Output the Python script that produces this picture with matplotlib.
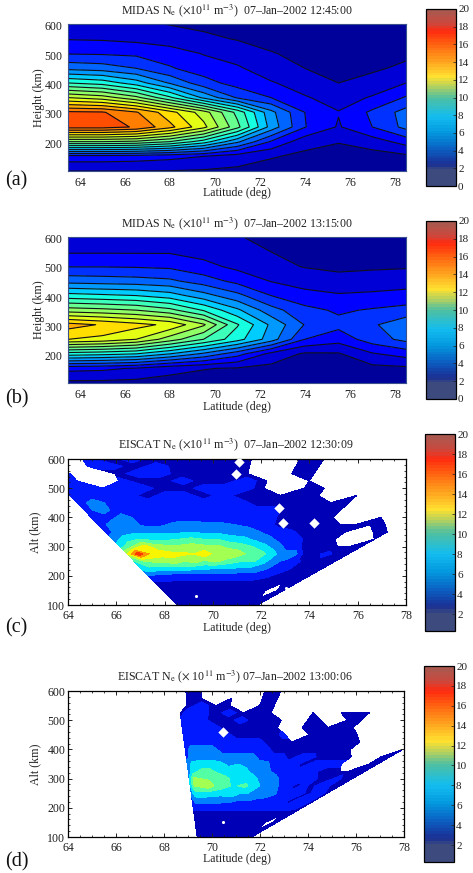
import matplotlib
matplotlib.use('Agg')
import matplotlib.pyplot as plt
import numpy as np
from matplotlib.cm import ScalarMappable
from matplotlib.colors import LinearSegmentedColormap, Normalize
from matplotlib.ticker import MultipleLocator

plt.rcParams['font.family'] = ['Liberation Serif', 'DejaVu Serif']
plt.rcParams['mathtext.fontset'] = 'stix'
plt.rcParams['text.color'] = '#222222'
plt.rcParams['axes.labelcolor'] = '#222222'
plt.rcParams['xtick.color'] = '#222222'
plt.rcParams['ytick.color'] = '#222222'

n = np.nan

# Model grid (MIDAS), density in 1e11 m^-3
midas_lat = [63.5, 65, 66.5, 68, 69.5, 71, 72.5, 74, 75.5, 77, 78.5]
midas_height = [605, 555, 505, 455, 405, 355, 305, 255, 205, 155, 105]

midas_a = [
    [1.3, 1.25, 1.15, 0.97, 0.8, 0.7, 0.6, 0.5, 0.4, 0.35, 0.35],
    [1.95, 1.9, 1.75, 1.5, 1.2, 0.95, 0.75, 0.6, 0.5, 0.5, 0.55],
    [2.95, 2.9, 2.8, 2.5, 1.95, 1.5, 1.05, 0.8, 0.6, 0.65, 0.8],
    [4.7, 4.5, 4.0, 3.1, 2.5, 2.15, 1.4, 1.0, 0.8, 0.85, 1.2],
    [8.0, 7.6, 6.5, 4.9, 3.4, 2.6, 2.1, 1.5, 1.0, 1.35, 2.0],
    [12.0, 11.5, 10.3, 8.2, 5.8, 3.9, 3.0, 2.1, 1.55, 2.1, 3.1],
    [16.2, 16.1, 15.1, 13.4, 11.5, 8.7, 5.3, 3.0, 2.05, 3.2, 4.4],
    [16.4, 16.4, 15.9, 14.3, 12.3, 9.3, 5.6, 3.05, 1.9, 3.0, 4.3],
    [10.0, 10.0, 9.8, 9.0, 7.5, 5.2, 2.9, 1.4, 1.05, 1.5, 2.4],
    [2.6, 2.6, 2.5, 2.3, 2.0, 1.5, 1.1, 0.75, 0.6, 0.6, 0.8],
    [1.0, 1.0, 1.0, 0.97, 0.9, 0.8, 0.5, 0.4, 0.3, 0.3, 0.3],
]

midas_b = [
    [1.25, 1.25, 1.25, 1.2, 1.15, 1.05, 0.8, 0.5, 0.4, 0.45, 0.5],
    [1.9, 1.9, 1.9, 1.9, 1.65, 1.25, 1.0, 0.65, 0.5, 0.6, 0.7],
    [2.95, 2.95, 2.9, 2.8, 2.3, 1.75, 1.3, 0.95, 0.75, 0.85, 0.9],
    [4.6, 4.5, 4.4, 4.2, 3.5, 2.7, 1.95, 1.55, 1.4, 1.45, 1.55],
    [7.4, 7.2, 7.0, 6.5, 5.4, 4.3, 3.0, 2.35, 2.1, 2.2, 2.35],
    [10.5, 10.3, 10.0, 9.3, 7.9, 6.2, 4.4, 3.3, 2.85, 3.1, 3.35],
    [14.4, 13.9, 13.35, 12.75, 11.15, 8.1, 5.8, 3.95, 3.3, 3.85, 4.7],
    [13.0, 12.7, 12.0, 10.5, 9.0, 7.4, 5.5, 3.0, 2.4, 3.5, 4.3],
    [7.5, 7.3, 7.0, 6.0, 4.8, 3.4, 1.7, 0.85, 0.9, 1.9, 2.4],
    [2.3, 2.2, 1.9, 1.3, 1.05, 0.9, 0.7, 0.5, 0.45, 0.7, 0.8],
    [0.75, 0.75, 0.7, 0.65, 0.55, 0.5, 0.4, 0.3, 0.3, 0.35, 0.4],
]

# Radar gates (EISCAT): rows are altitudes, columns are beams,
# beams named by the latitude they reach at 300 km
gate_alt = [600, 575, 550, 525, 500, 475, 450, 425, 400, 375, 350,
            325, 300, 275, 250, 225, 200, 175, 150, 125, 100]

beam_lat_c = [66.15, 66.65, 67.15, 67.65, 68.15, 68.65, 69.15, 69.65, 70.15, 70.65, 71.15,
              71.65, 72.15, 72.65, 73.15, 73.65, 74.15, 74.65, 75.15, 75.65, 76.15]
site_lat_c = 69.7

eiscat_c = [
    [n, n, 3, 1, 3, 1, 1, 1, 1, 1, n, 1, 1, n, n, n, n, n, n, n, n],
    [n, n, 3, 3, 1, 3, 1, 1, 1, 1, n, 1, 1, n, n, n, n, n, n, n, n],
    [3, 3, n, 1, 3, 3, 1, 1, 1, 1, n, 1, 1, n, n, n, n, n, n, n, n],
    [3, 3, n, 3, 1, 1, 3, 1, 1, 3, 1, n, 1, n, n, n, n, n, n, n, n],
    [3, 3, 3, 3, 3, 1, 1, 3, 3, 3, 1, n, 1, 1, n, n, n, n, n, n, n],
    [3, 3, 3, 3, 1, 3, 3, 1, 3, 1, 1, 1, 1, 1, n, 1, n, n, n, n, n],
    [3, 5, 3, 3, 3, 3, 3, 3, 3, 3, 1, 1, 1, 1, 1, 1, n, n, n, n, n],
    [3, 5, 3, 3, 3, 3, 3, 3, 3, 3, 3, 3, 1, 1, 1, 1, n, n, n, n, n],
    [3, 3, 5, 3, 3, 3, 3, 3, 3, 3, 3, 3, 1, 1, 1, 1, n, n, 1, n, n],
    [3, 5, 5, 3.5, 3.5, 4.5, 5, 4.5, 4.5, 4, 3.5, 3, 1.5, 1, 1, 1, 1, 1, 1, 1, n],
    [3, 5, 5.5, 5.5, 5.5, 5.5, 6, 5.5, 5.5, 5, 5, 4, 3, 2.5, 1.5, 1, 1, 1, n, 1, 1],
    [5, 7, 8, 7.5, 7.5, 8, 8.5, 8, 8, 7, 6.5, 5.5, 4.5, 3, 2.5, 1.5, 1, 1, n, n, 1],
    [7, 10, 13, 11, 10.5, 10.5, 11, 10.5, 10.5, 9.5, 9, 8, 6.5, 5, 3, 2, 1, 1.5, 1, 1, 1],
    [12, 17.5, 14, 13, 12.5, 12.5, 12, 13.5, 11, 11.5, 11, 9.5, 9, 7, 5, 5.5, 1.5, 1.5, 2.5, 1.5, 1],
    [8, 10, 10.5, 10.5, 11.5, 10, 11, 9.5, 10.5, 9.5, 8.5, 8, 8, 6.5, 4.5, 3.5, 2.5, 1.5, 1.5, 1.5, 1],
    [7, 7.5, 7, 7, 7, 7, 6.5, 6.5, 6, 6, 6, 5.5, 5.5, 5, 4, 3, 2.5, 1.5, 1, 1, 1],
    [4, 3.5, 3.5, 3, 3, 3, 3, 3, 3, 3, 3, 3, 3, 3, 2.5, 2.2, 1.5, 1, 1, 1, 1],
    [1.5, 1.5, 1.5, 1.5, 1.5, 1.5, 1.5, 1.5, 1.5, 1.5, 1.5, 1.5, 1.5, 1.5, 1.5, 1.2, 1.2, 1, 1, 1, 1],
    [1.2, 1.2, 1.2, 1.2, 1.2, 1.2, 1.2, 1.2, 1.2, 1.2, 1.2, 1.2, 1.2, 1.2, 1.2, 1.2, 1.2, 1, n, 1, 1],
    [1, 1, 1, 1, 1, 1, 1, 1, 1, 1, 1, 1, 1, 1, 1, 1, 1, 1, 1, 1, 1],
    [1, 1, 1, 1, 1, 1, 1, 1, 1, 1, 1, 1, 1, 1, 1, 1, 1, 1, 1, 1, 1],
]

# gates with no usable data, smaller than the beam spacing
gap_lat_c = [70.95, 71.08, 72.75, 72.92, 74.2]
gap_alt_c = [548, 590, 432, 382, 380]
spot_lat_c = [69.3, 73.05]
spot_alt_c = [130, 158]

beam_lat_d = [69.05, 69.23, 69.55, 69.88, 70.21, 70.55, 70.88, 71.21, 71.55, 71.88, 72.21,
              72.55, 72.88, 73.21, 73.55, 73.88, 74.21, 74.55, 74.88, 75.21, 75.55, 75.85]
site_lat_d = 69.55

eiscat_d = [
    [n, 1, 1, n, 1, n, 1, 1, n, n, n, n, n, n, n, n, n, n, n, n, n, n],
    [n, 1, 1, n, 1, n, 1, 1, n, n, n, n, n, n, n, n, n, n, n, n, n, n],
    [n, 1, 3, 1, 1, n, 1, 1, n, n, n, n, n, n, n, n, n, n, n, n, n, n],
    [1, 3, 3, 1, 3, 1, 1, 1, n, n, 1, n, 1, 1, 1, n, n, n, n, n, n, n],
    [3, 3, 3, 1, 1, 3, 1, 1, 1, n, 1, 1, n, 1, 1, n, n, n, n, n, n, n],
    [3, 3, 3, 3, 1, 1, 1, 1, 1, n, 1, 1, 1, 1, 1, n, n, n, n, n, n, n],
    [3, 3, 3, 3, 3, 1, 1, 1, 1, 3, n, 1, 1, 1, 1, 1, n, n, n, n, n, n],
    [3, 3, 3, 3, 3, 3, 3, 3, 1, 1, 1, 1, 1, 1, 1, 1, 1, n, n, n, n, n],
    [3, 5, 5, 5, 3, 3, 3, 3, 3, 1, 1, 1, 1, 1, 1, 1, 1, n, n, n, n, 1],
    [3, 5, 5, 5, 5, 5, 5, 5, 3, 3, 3, 1, 3, 3, 1, 1, 1, 1, n, n, 1, 1],
    [5, 6.5, 7, 7, 6.5, 5.5, 6, 5.5, 5, 4.5, 3, 3, 3, 1, 3, 3, 3, 3, n, n, 1, 1],
    [5, 7, 8.5, 8.5, 7.5, 7, 6.5, 6.5, 5.5, 5.5, 4, 3, 3, 3, 3, 3, 1, 1, 1, 1, 1, 1],
    [6, 10.5, 10, 9.5, 9.5, 8.5, 7.5, 8, 7, 6, 6, 5, 3.5, 2.5, 3, 3, 3, 1, 1, 3, 1, 1],
    [6, 10, 10.5, 11.5, 9.5, 9, 8, 8, 8.5, 7, 6, 5.5, 5, 3, 3, 1, 3, 1, 3, 3, 1, 1],
    [5, 7, 7.5, 7, 7, 6.5, 7.5, 7, 6, 6, 5.5, 5.5, 5, 4.5, 3, 3, 3, 3, 1, 3, 3, 1],
    [3, 5, 5, 5, 5, 5, 4.5, 4.5, 4, 4, 4, 3.5, 3.5, 3, 3, 3, 3, 1, 3, 3, 3, 1],
    [2.5, 2.5, 2.5, 2.5, 2.5, 2.5, 2.5, 2.5, 2.5, 2.5, 2.5, 2.5, 2.5, 2.5, 2.5, 2.5, 2.5, 2.5, 2.5, 2.5, 2.2, 1],
    [1.2, 1.2, 1.2, 1.2, 1.2, 1.2, 1.2, 1.2, 1.2, 1.2, 1.2, 1.2, 1.2, 1.2, 1.2, 1.2, 1.2, 1.2, 1.2, 1.2, 1, 1],
    [1, 1, 1, 1, 1, 1, 1, 1, 1, 1, 1, 1, 1, 1, 1, 1, 1, 1, 1, n, 1, 1],
    [1, 1, 1, 1, 1, 1, 1, 1, 1, 1, 1, 1, 1, 1, 1, 1, 1, 1, 1, 1, 1, 1],
    [1, 1, 1, 1, 1, 1, 1, 1, 1, 1, 1, 1, 1, 1, 1, 1, 1, 1, 1, 1, 1, 1],
]

gap_lat_d = [70.45]
gap_alt_d = [458]
spot_lat_d = [70.44]
spot_alt_d = [152]

titles = [
    r'MIDAS N$_{\mathrm{e}}$ ($\times$10$^{11}$ m$^{-3}$)  07–Jan–2002 12:45:00',
    r'MIDAS N$_{\mathrm{e}}$ ($\times$10$^{11}$ m$^{-3}$)  07–Jan–2002 13:15:00',
    r'EISCAT N$_{\mathrm{e}}$ ($\times$10$^{11}$ m$^{-3}$)  07–Jan–2002 12:30:09',
    r'EISCAT N$_{\mathrm{e}}$ ($\times$ 10$^{11}$ m$^{-3}$) 07–Jan–2002 13:00:06',
]
panel_letters = ['(a)', '(b)', '(c)', '(d)']
lat_ticks = [64, 66, 68, 70, 72, 74, 76, 78]
alt_ticks = [100, 200, 300, 400, 500, 600]
height_ticks = [200, 300, 400, 500, 600]
bar_ticks_full = list(range(0, 21, 2))
bar_ticks_radar = list(range(2, 21, 2))

W, H = 473, 873
fig = plt.figure(figsize=(W / 100, H / 100), dpi=100)


def px_axes(x0, y0, x1, y1):
    # pixel box with the origin at the top left
    return fig.add_axes([x0 / W, 1 - y1 / H, (x1 - x0) / W, (y1 - y0) / H])


# muted jet used on the colour bars
bar_cmap = LinearSegmentedColormap.from_list('bar', [
    (0.0, '#3c4a7e'), (0.085, '#3c4a7e'), (0.115, '#1b2f94'), (0.2, '#0b5cc0'),
    (0.3, '#0499e0'), (0.39, '#12bdf0'), (0.5, '#50c0a0'), (0.56, '#b0d060'),
    (0.62, '#ffe030'), (0.7, '#ffa820'), (0.8, '#ff6510'), (0.88, '#ff2a10'),
    (0.93, '#c84a40'), (1.0, '#a85a50')], N=64)


def draw_colorbar(box, vmin, ticks):
    cax = px_axes(*box)
    sm = ScalarMappable(Normalize(vmin, 20), bar_cmap)
    cb = fig.colorbar(sm, cax=cax, ticks=ticks)
    cb.ax.tick_params(labelsize=8, length=2, width=0.5, direction='in', pad=1.5)
    cb.outline.set_linewidth(0.9)


def style_axis(ax, title, title_x, title_y, xlab_y):
    fig.text(title_x / W, 1 - title_y / H, title, ha='center', va='center', fontsize=8.6)
    ax.tick_params(labelsize=8.6)
    fig.text(237 / W, 1 - xlab_y / H, 'Latitude (deg)', ha='center', va='center', fontsize=8.6)


def draw_midas(ax, grid, title, title_y, xlab_y):
    z = np.array(grid)
    levels = np.arange(0, 22, 1)
    ax.contourf(midas_lat, midas_height, z, levels=levels, cmap='jet', vmin=0, vmax=20)
    ax.contour(midas_lat, midas_height, z, levels=levels[1:], colors='#101018', linewidths=0.8)
    ax.set_xlim(63.47, 78.5)
    ax.set_ylim(105, 606)
    ax.set_xticks(lat_ticks)
    ax.set_yticks(height_ticks)
    ax.tick_params(length=0, pad=4)
    for s in ax.spines.values():
        s.set_color('#39508c')
        s.set_linewidth(0.8)
    ax.set_ylabel('Height (km)', fontsize=8.6)
    ax.yaxis.set_label_coords(-0.068, 0.5)
    style_axis(ax, title, 237, title_y, xlab_y)


def draw_eiscat(ax, grid, beam_lat, site_lat, gaps, spots, title, title_x, title_y, xlab_y):
    z = np.ma.masked_invalid(np.array(grid, dtype=float))
    alt = np.array(gate_alt, dtype=float)
    beams = np.array(beam_lat)
    # each beam is a straight line out of the radar site
    lat2d = site_lat + np.outer(alt / 300.0, beams - site_lat)
    alt2d = np.outer(alt, np.ones(len(beams)))
    ax.contourf(lat2d, alt2d, z, levels=np.arange(0, 22, 2), cmap='jet', vmin=0, vmax=20)
    ax.scatter(gaps[0], gaps[1], marker='D', s=28, color='white', linewidths=0, zorder=3)
    ax.scatter(spots[0], spots[1], marker='o', s=5, color='white', linewidths=0, zorder=3)
    ax.set_xlim(64, 78)
    ax.set_ylim(100, 600)
    ax.set_xticks(lat_ticks)
    ax.set_yticks(alt_ticks)
    ax.xaxis.set_minor_locator(MultipleLocator(0.5))
    ax.yaxis.set_minor_locator(MultipleLocator(20))
    ax.tick_params(which='major', length=3, width=0.7, direction='in', top=True, right=True)
    ax.tick_params(which='minor', length=1.5, width=0.6, direction='in', top=True, right=True)
    ax.tick_params(axis='x', which='major', pad=3.5)
    ax.tick_params(axis='y', which='major', pad=2)
    for s in ax.spines.values():
        s.set_linewidth(0.9)
    ax.set_ylabel('Alt (km)', fontsize=8.6)
    ax.yaxis.set_label_coords(-0.08, 0.5)
    style_axis(ax, title, title_x, title_y, xlab_y)


ax_a = px_axes(68, 24, 406, 171)
draw_midas(ax_a, midas_a, titles[0], 11, 193)
draw_colorbar((425.5, 9, 456, 186), 0, bar_ticks_full)

ax_b = px_axes(68, 237, 406, 383)
draw_midas(ax_b, midas_b, titles[1], 224, 407)
draw_colorbar((425.5, 221, 456, 399), 0, bar_ticks_full)

ax_c = px_axes(68, 459, 406, 605)
draw_eiscat(ax_c, eiscat_c, beam_lat_c, site_lat_c, (gap_lat_c, gap_alt_c), (spot_lat_c, spot_alt_c),
            titles[2], 236, 445, 628)
draw_colorbar((425, 434, 455, 631), 0.3, bar_ticks_radar)

ax_d = px_axes(68, 691, 404, 837)
draw_eiscat(ax_d, eiscat_d, beam_lat_d, site_lat_d, (gap_lat_d, gap_alt_d), (spot_lat_d, spot_alt_d),
            titles[3], 235, 677, 859)
draw_colorbar((424, 666, 454, 862), 0.3, bar_ticks_radar)

for letter, y in zip(panel_letters, [181, 399, 628, 862]):
    fig.text(5 / W, 1 - y / H, letter, ha='left', va='center', fontsize=14.5, color='#111111')

fig.savefig('out.png', dpi=100)
